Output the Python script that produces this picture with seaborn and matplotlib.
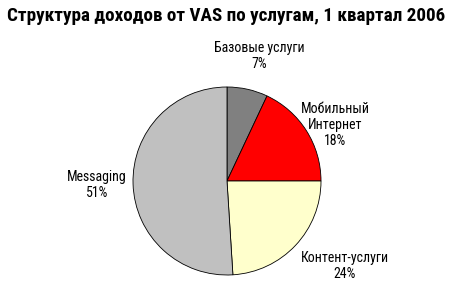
import matplotlib
matplotlib.use("Agg")
import matplotlib.pyplot as plt
import seaborn as sns

categories = ["Базовые услуги", "Мобильный\nИнтернет", "Контент-услуги", "Messaging"]
values = [7, 18, 24, 51]
colors = ["#808080", "#FF0000", "#FFFFCC", "#C0C0C0"]
title = "Структура доходов от VAS по услугам, 1 квартал 2006"

sns.set_theme(style="white")
plt.rcParams["font.family"] = ["Roboto Condensed", "DejaVu Sans"]

W, H = 450, 297
fig = plt.figure(figsize=(W / 100, H / 100), dpi=100)
ax = fig.add_axes([0, 0, 1, 1])

cx, cy, r = 227, H - 181, 94
wedges, _ = ax.pie(values, colors=colors, startangle=90, counterclock=False,
                   center=(cx, cy), radius=r,
                   wedgeprops=dict(edgecolor="black", linewidth=0.6))
ax.set_xlim(0, W)
ax.set_ylim(0, H)
ax.set_aspect("equal")
ax.axis("off")

label_pos = [(259, 56), (335, 125), (345, 266), (97, 185)]
for name, v, (x, y) in zip(categories, values, label_pos):
    ax.text(x, H - y, f"{name}\n{v}%", ha="center", va="center",
            fontsize=10, color="black", linespacing=1.2)

fig.text(226 / W, 1 - 16 / H, title, ha="center", va="center",
         fontsize=13.8, fontweight="bold", color="black")

fig.savefig("out.png", dpi=100, facecolor="white")
